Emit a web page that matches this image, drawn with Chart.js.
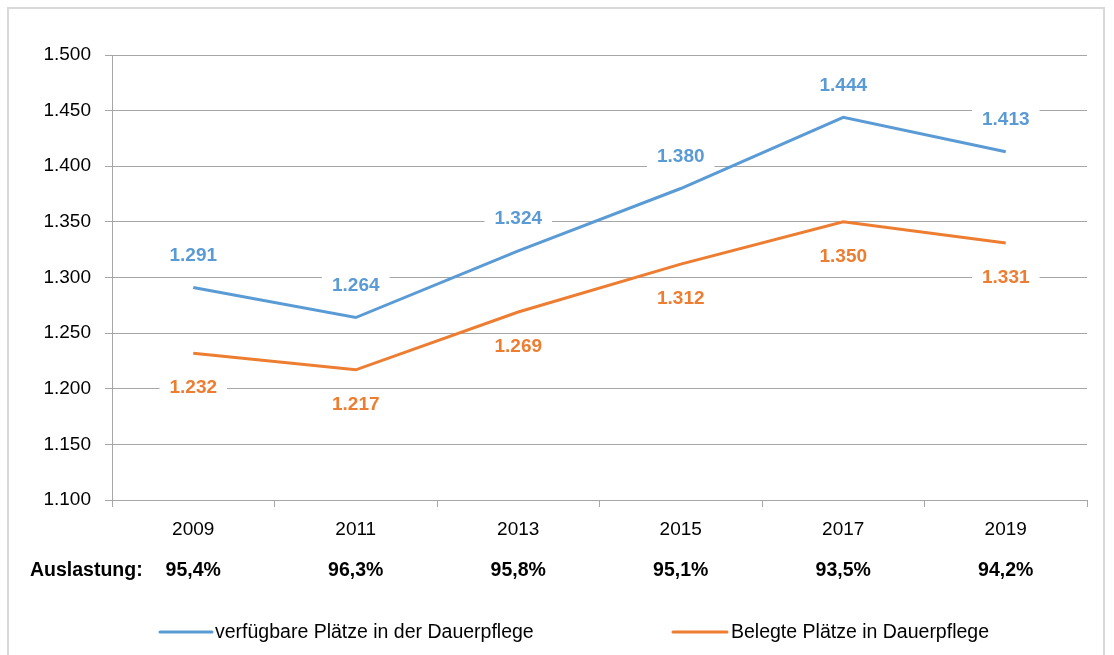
<!DOCTYPE html>
<html>
<head>
<meta charset="utf-8">
<script src="https://cdn.jsdelivr.net/npm/chart.js@4/dist/chart.umd.min.js"></script>
<style>
  body { margin: 0; background: #fff; }
  #wrap { position: relative; width: 1114px; height: 655px; overflow: hidden; }
  #frame { position: absolute; left: 7px; top: 7px; width: 1098px; height: 700px; border: 2px solid #d9d9d9; box-sizing: border-box; }
  canvas { position: absolute; left: 0; top: 0; }
</style>
</head>
<body>
<div id="wrap">
  <div id="frame"></div>
  <canvas id="myChart" width="1114" height="655"></canvas>
</div>
<script>
const jahre = ['2009', '2011', '2013', '2015', '2017', '2019'];
const verfuegbar = [1291, 1264, 1324, 1380, 1444, 1413];
const belegt = [1232, 1217, 1269, 1312, 1350, 1331];
const auslastung = ['95,4%', '96,3%', '95,8%', '95,1%', '93,5%', '94,2%'];
const serienNamen = ['verfügbare Plätze in der Dauerpflege', 'Belegte Plätze in Dauerpflege'];

const blau = '#5b9bd5';
const orange = '#ed7d31';
const grau = '#a6a6a6';
const schrift = '"Liberation Sans", Arial, sans-serif';

// 1291 -> "1.291"
const fmt = v => String(v).replace(/\B(?=(\d{3})+(?!\d))/g, '.');

// Datenbeschriftungen mit weissem Hintergrund
const labelPlugin = {
    id: 'labels',
    afterDatasetsDraw(chart) {
        const ctx = chart.ctx;
        ctx.save();
        ctx.font = 'bold 19px ' + schrift;
        ctx.textAlign = 'center';
        ctx.textBaseline = 'middle';
        chart.data.datasets.forEach((ds, i) => {
            const meta = chart.getDatasetMeta(i);
            meta.data.forEach((pt, j) => {
                const txt = fmt(ds.data[j]);
                const y = pt.y + (i === 0 ? -33 : 34);
                const w = ctx.measureText(txt).width + 20;
                ctx.fillStyle = '#fff';
                ctx.fillRect(pt.x - w / 2, y - 12, w, 24);
                ctx.fillStyle = ds.borderColor;
                ctx.fillText(txt, pt.x, y + 1);
            });
        });
        ctx.restore();
    },
    afterDraw(chart) {
        const ctx = chart.ctx;
        const x = chart.scales.x;
        ctx.save();
        // Auslastung Zeile
        ctx.fillStyle = '#000';
        ctx.textBaseline = 'middle';
        ctx.font = 'bold 19.5px ' + schrift;
        ctx.textAlign = 'left';
        ctx.fillText('Auslastung:', 30, 571);
        ctx.textAlign = 'center';
        auslastung.forEach((a, j) => {
            ctx.fillText(a, x.getPixelForValue(j), 571);
        });
        // Legende
        const items = [[160, 212, 215], [673, 727, 731]];
        ctx.font = '19.5px ' + schrift;
        ctx.textAlign = 'left';
        chart.data.datasets.forEach((ds, i) => {
            const it = items[i];
            ctx.strokeStyle = ds.borderColor;
            ctx.lineWidth = 3;
            ctx.lineCap = 'round';
            ctx.beginPath();
            ctx.moveTo(it[0], 632);
            ctx.lineTo(it[1], 632);
            ctx.stroke();
            ctx.fillStyle = '#000';
            ctx.fillText(ds.label, it[2], 633);
        });
        ctx.restore();
    }
};

let chart = document.getElementById('myChart').getContext('2d');
let myChart = new Chart(chart, {
    type: 'line',
    data: {
        labels: jahre,
        datasets: [{
            label: serienNamen[0],
            data: verfuegbar,
            borderColor: blau,
            borderWidth: 3,
            pointRadius: 0
        }, {
            label: serienNamen[1],
            data: belegt,
            borderColor: orange,
            borderWidth: 3,
            pointRadius: 0
        }]
    },
    options: {
        responsive: false,
        animation: false,
        layout: { padding: { left: 0, top: 55, right: 27, bottom: 0 } },
        plugins: {
            legend: { display: false },
            tooltip: { enabled: false }
        },
        scales: {
            x: {
                offset: true,
                grid: {
                    offset: true,
                    drawOnChartArea: false,
                    drawTicks: true,
                    tickLength: 7,
                    color: grau
                },
                border: { color: grau, width: 1 },
                ticks: {
                    color: '#000',
                    padding: 11,
                    maxRotation: 0,
                    font: { family: schrift, size: 19 }
                },
                afterFit: s => { s.height = 155; }
            },
            y: {
                min: 1100,
                max: 1500,
                grid: { color: grau, tickLength: 7 },
                border: { color: grau, width: 1 },
                ticks: {
                    stepSize: 50,
                    color: '#000',
                    padding: 14,
                    font: { family: schrift, size: 19 },
                    callback: v => fmt(v)
                },
                afterFit: s => { s.width = 112; }
            }
        }
    },
    plugins: [labelPlugin]
});
</script>
</body>
</html>
